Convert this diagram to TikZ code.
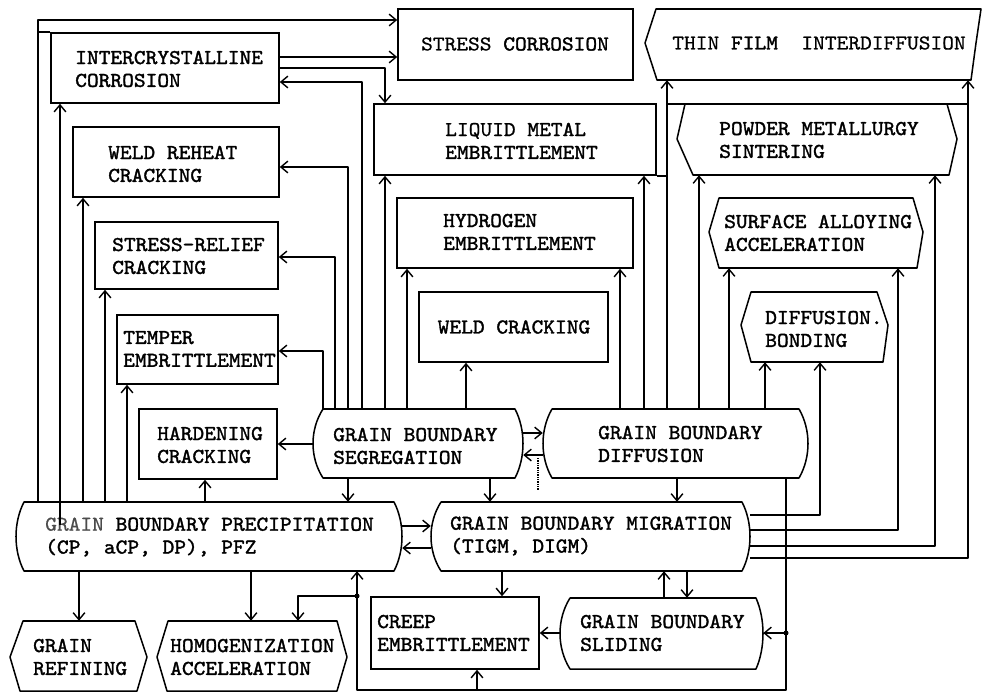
\documentclass[tikz,border=0pt]{standalone}
\usepackage{fontspec}
\usetikzlibrary{arrows.meta,fit}
\newfontfamily\tw{lmmono10-regular.otf}[FakeBold=1.6,FakeStretch=1.06]
\newfontfamily\twl{lmmono10-regular.otf}[FakeBold=0.6,FakeStretch=1.06]
\newcommand\mycurvy[6]{%
  \draw[ln] ({#1+#5},#2) -- ({#3-#6},#2)
    .. controls ({#3+#6/3},{#2+0.3*(#4-#2)}) and ({#3+#6/3},{#4-0.3*(#4-#2)}) .. ({#3-#6},#4)
    -- ({#1+#5},#4)
    .. controls ({#1-#5/3},{#4-0.3*(#4-#2)}) and ({#1-#5/3},{#2+0.3*(#4-#2)}) .. cycle;}
\newcommand\myhex[9]{%
  \draw[ln] (#1,#7) -- (#4,#7) -- (#5,#8) -- (#6,#9) -- (#3,#9) -- (#2,#8) -- cycle;}
\begin{document}
\begin{tikzpicture}[x=0.03cm,y=-0.03cm,
  ln/.style={line width=1.3pt, line join=round},
  arr/.style={ln,-{Straight Barb[length=6pt,width=10pt,line width=1.2pt]}},
  frame/.style={draw=none, inner sep=0pt},
  bx/.style={draw, line width=1.3pt, inner sep=0pt},
  lbl/.style={anchor=west, align=left, inner sep=0pt, font=\tw\fontsize{18}{19.5}\selectfont},
  ctr/.style={anchor=center, align=center, inner sep=0pt, font=\tw\fontsize{18}{19.5}\selectfont}
]
\useasboundingbox (0,0) rectangle (982,693);

% ---- rectangular boxes
\node[bx, fit={(51,33) (279,103)}] (ic) {};
\node[bx, fit={(398,9) (633,80)}] (sc) {};
\node[bx, fit={(374,104) (656,175)}] (lm) {};
\node[bx, fit={(73,127) (279,197)}] (wr) {};
\node[bx, fit={(397,198) (633,268)}] (hy) {};
\node[bx, fit={(95,222) (278,289)}] (sr) {};
\node[bx, fit={(419,292) (608,362)}] (wc) {};
\node[bx, fit={(117,315) (278,384)}] (te) {};
\node[bx, fit={(139,409) (277,479)}] (hc) {};
\node[bx, fit={(371,597) (539,669)}] (creep) {};

% ---- hexagonal boxes
\myhex{656}{645}{657}{981}{976}{971}{9}{43}{80}
\node[frame, fit={(645,9) (981,80)}] (tf) {};
\myhex{685}{677}{693}{947}{957}{949}{104}{139}{175}
\node[frame, fit={(677,104) (957,175)}] (pm) {};
\myhex{719}{709}{719}{913}{923}{917}{198}{232}{268}
\node[frame, fit={(709,198) (923,268)}] (sa) {};
\myhex{751}{741}{751}{877}{888}{883}{292}{325}{362}
\node[frame, fit={(741,292) (888,362)}] (db) {};
\myhex{23}{10}{20}{135}{147}{137}{621}{657}{691}
\node[frame, fit={(10,621) (147,691)}] (gr) {};
\myhex{168}{157}{167}{337}{347}{337}{621}{657}{691}
\node[frame, fit={(157,621) (347,691)}] (hom) {};

% ---- curved boxes
\mycurvy{313}{409}{523}{478}{10}{8}
\node[frame, fit={(313,409) (523,478)}] (seg) {};
\mycurvy{543}{409}{808}{478}{9}{9}
\node[frame, fit={(543,409) (808,478)}] (gbd) {};
\mycurvy{16}{502}{402}{571}{8}{8}
\node[frame, fit={(16,502) (402,571)}] (gbp) {};
\mycurvy{431}{502}{750}{571}{10}{8}
\node[frame, fit={(431,502) (750,571)}] (gbm) {};
\mycurvy{560}{598}{763}{669}{10}{7}
\node[frame, fit={(560,598) (763,669)}] (gbs) {};

% ---- texts
\node[lbl] (ic-t) at (75,69) {INTERCRYSTALLINE\\CORROSION};
\node[ctr] (sc-t) at (515,44) {{\twl STRESS} CORROSION};
\node[ctr] (tf-t) at (819,43) {{\twl THIN} FILM\ \ {\twl INTERDIFFUSION}};
\node[lbl] (lm-t) at (445,141) {{\twl LIQUID} METAL\\EMBRITTLEMENT};
\node[lbl] (pm-t) at (719,140) {POWDER METALLURGY\\SINTERING};
\node[lbl] (wr-t) at (108,164) {WELD REHEAT\\CRACKING};
\node[lbl] (hy-t) at (443,232) {HYDROGEN\\EMBRITTLEMENT};
\node[lbl] (sa-t) at (724,233) {SURFACE ALLOYING\\ACCELERATION};
\node[lbl] (sr-t) at (112,256) {STRESS-RELIEF\\CRACKING};
\node[ctr] (wc-t) at (514,327) {WELD CRACKING};
\node[lbl] (db-t) at (765,329) {DIFFUSION.\\BONDING};
\node[lbl] (te-t) at (123,349) {TEMPER\\EMBRITTLEMENT};
\node[lbl] (hc-t) at (157,445) {HARDENING\\CRACKING};
\node[lbl] (seg-t) at (333,446) {GRAIN BOUNDARY\\SEGREGATION};
\node[lbl] (gbd-t) at (598,444) {GRAIN BOUNDARY\\DIFFUSION};
\node[lbl] (gbp-t) at (45,537) {{\twl\color{black!70}GRAIN} BOUNDARY PRECIPITATION\\(CP, aCP, DP), PFZ};
\node[lbl] (gbm-t) at (450,536) {GRAIN BOUNDARY MIGRATION\\(TIGM, DIGM)};
\node[lbl] (creep-t) at (377,633) {CREEP\\EMBRITTLEMENT};
\node[lbl] (gbs-t) at (580,633) {GRAIN BOUNDARY\\SLIDING};
\node[lbl] (gr-t) at (33,657) {GRAIN\\REFINING};
\node[lbl] (hom-t) at (170,657) {HOMOGENIZATION\\ACCELERATION};

% ---- connectors from grain boundary precipitation
\draw[arr, line width=1.8pt] (gbp.north -| 38,0) |- (sc.west |- 0,20);
\draw[ln] (ic.north west) -- (ic.north west -| 38,0);
\coordinate (icfoot) at (60,525);
\draw[arr] (icfoot) -- (ic.south -| icfoot);
\draw[arr] (gbp.north -| 83,0) -- (wr.south -| 83,0);
\draw[arr] (gbp.north -| 105,0) -- (sr.south -| 105,0);
\draw[arr] (gbp.north -| 127,0) -- (te.south -| 127,0);
\draw[arr] (gbp.north -| 205,0) -- (hc.south -| 205,0);
\draw[arr] (gbp.south -| 79,0) -- (gr.north -| 79,0);
\draw[arr] (gbp.south -| 251,0) -- (hom.north -| 251,0);
\draw[arr] (gbp.east |- 0,526) -- (gbm.west |- 0,526);

% ---- connectors from intercrystalline corrosion
\draw[arr] (ic.east |- 0,57) -- (sc.west |- 0,57);
\draw[arr] (ic.east |- 0,68) -| (lm.north -| 385,0);

% ---- connectors from grain boundary segregation
\draw[arr] (seg.west |- 0,444) -- (hc.east |- 0,444);
\draw[arr] (seg.north -| 323,0) |- (te.east |- 0,351);
\draw[arr] (seg.north -| 335,0) |- (sr.east |- 0,257);
\draw[arr] (seg.north -| 348,0) |- (wr.east |- 0,167);
\draw[arr] (seg.north -| 362,0) |- (ic.east |- 0,82);
\draw[arr] (seg.north -| 385,0) -- (lm.south -| 385,0);
\draw[arr] (seg.north -| 407,0) -- (hy.south -| 407,0);
\draw[arr] (seg.north -| 466,0) -- (wc.south -| 466,0);
\draw[arr] (seg.east |- 0,433) -- (gbd.west |- 0,433);
\draw[arr] (seg.south -| 348,0) -- (gbp.north -| 348,0);
\draw[arr] (seg.south -| 490,0) -- (gbm.north -| 490,0);

% ---- connectors from grain boundary diffusion
\draw[arr] (gbd.west |- 0,455) -- (seg.east |- 0,455);
\draw[arr] (gbd.north -| 620,0) -- (hy.south -| 620,0);
\draw[arr] (gbd.north -| 644,0) -- (lm.south -| 644,0);
\draw[arr] (gbd.north -| 667,0) -- (tf.south -| 667,0);
\draw[arr] (gbd.north -| 699,0) -- (pm.south -| 699,0);
\draw[arr] (gbd.north -| 729,0) -- (sa.south -| 729,0);
\draw[arr] (gbd.north -| 765,0) -- (db.south -| 765,0);
\draw[arr] (gbd.south -| 677,0) -- (gbm.north -| 677,0);
\draw[ln] (pm.north -| 667,0) -- (pm.north -| 968,0);
\draw[ln] (lm.south east) -- (lm.south -| 667,0);
\draw[densely dotted, line width=1pt] (538,458) -- (538,490);

\coordinate (br) at (786,690);
\coordinate (bl) at (357,690);
\coordinate (d1) at (786,633);
\coordinate (d2) at (357,596);
\draw[arr] (gbd.south -| br) -- (br) -- (bl) -- (gbp.south -| bl);
\draw[arr] (d1) -- (gbs.east |- d1);
\draw[arr] (d2) -| (hom.north -| 298,0);
\draw[arr] (bl -| 477,0) -- (creep.south -| 477,0);
\fill (d1) circle (2.5);
\fill (d2) circle (2.5);

% ---- connectors from grain boundary migration
\draw[arr] (gbm.west |- 0,548) -- (gbp.east |- 0,548);
\draw[arr] (gbm.east |- 0,515) -| (db.south -| 820,0);
\draw[arr] (gbm.east |- 0,530) -| (sa.south -| 898,0);
\draw[arr, line width=1.6pt] (gbm.east |- 0,546) -| (pm.south -| 935,0);
\draw[arr, line width=1.8pt] (gbm.east |- 0,558) -| (tf.south -| 968,0);
\draw[arr] (gbm.south -| 502,0) -- (creep.north -| 502,0);
\draw[arr] (gbm.south -| 687,0) -- (gbs.north -| 687,0);

% ---- connectors from grain boundary sliding
\draw[arr] (gbs.north -| 664,0) -- (gbm.south -| 664,0);
\draw[arr] (gbs.west |- 0,633) -- (creep.east |- 0,633);
\end{tikzpicture}
\end{document}
